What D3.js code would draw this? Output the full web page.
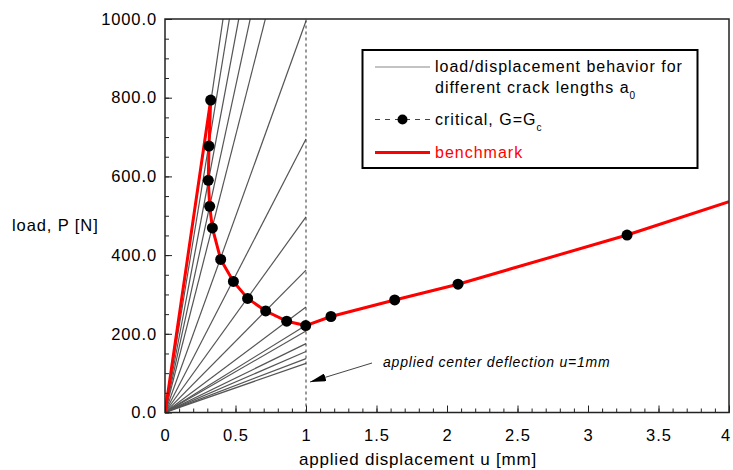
<!DOCTYPE html>
<html>
<head>
<meta charset="utf-8">
<script src="https://cdn.jsdelivr.net/npm/d3@7"></script>
<style>
  body { margin: 0; background: #fff; }
  svg text { font-family: "Liberation Sans", Arial, Helvetica, sans-serif; fill: #000; }
</style>
</head>
<body>
<div id="chart"></div>
<script>
// Chart data
const grayLoadAtU1 = [2430, 2190, 1912, 1655, 1405, 995, 695, 497, 362, 268, 222, 207, 175, 155, 137, 125];
const criticalU = [0.324, 0.312, 0.307, 0.317, 0.336, 0.395, 0.485, 0.586, 0.714, 0.863, 0.998, 1.177, 1.629, 2.078, 3.277];
const criticalP = [794, 677, 590, 524, 469, 389, 333, 290, 258, 232, 221, 244, 286, 326, 451];
const benchU = [0, 0.324, 0.312, 0.307, 0.317, 0.336, 0.395, 0.485, 0.586, 0.714, 0.863, 0.998, 1.177, 1.629, 2.078, 3.277, 4];
const benchP = [0, 794, 677, 590, 524, 469, 389, 333, 290, 258, 232, 221, 244, 286, 326, 451, 536];
const xTicks = [0, 0.5, 1, 1.5, 2, 2.5, 3, 3.5, 4];
const yTicks = [0, 200, 400, 600, 800, 1000];
const legendLabels = ["load/displacement behavior for", "different crack lengths a", "critical, G=G", "benchmark"];

const width = 733, height = 470;
const margin = { left: 165, right: 4, top: 19, bottom: 57.5 };
const plotW = width - margin.left - margin.right;
const plotH = height - margin.top - margin.bottom;

const svg = d3.select('#chart').append('svg')
    .attr('width', width)
    .attr('height', height);

const x = d3.scaleLinear().domain([0, 4]).range([margin.left, margin.left + plotW]);
const y = d3.scaleLinear().domain([0, 1000]).range([margin.top + plotH, margin.top]);

svg.append('clipPath').attr('id', 'clip')
    .append('rect')
    .attr('x', x(0)).attr('y', y(1000))
    .attr('width', x(4) - x(0)).attr('height', y(0) - y(1000));

const plot = svg.append('g').attr('clip-path', 'url(#clip)');

// gray load/displacement lines, each from origin to u=1
plot.selectAll('.gray')
    .data(grayLoadAtU1)
    .enter()
    .append('line')
    .attr('x1', x(0)).attr('y1', y(0))
    .attr('x2', x(1)).attr('y2', d => y(d))
    .attr('stroke', '#555')
    .attr('stroke-width', 1.2);

// dashed line at u=1
plot.append('line')
    .attr('x1', x(1)).attr('x2', x(1))
    .attr('y1', y(0)).attr('y2', y(1000))
    .attr('stroke', '#333')
    .attr('stroke-width', 1)
    .attr('stroke-dasharray', '3,3');

// critical dashed line
const critData = criticalU.map((u, i) => [u, criticalP[i]]);
const line = d3.line().x(d => x(d[0])).y(d => y(d[1]));
plot.append('path')
    .attr('d', line(critData))
    .attr('fill', 'none')
    .attr('stroke', '#000')
    .attr('stroke-width', 1)
    .attr('stroke-dasharray', '4,4');

// benchmark red
const benchData = benchU.map((u, i) => [u, benchP[i]]);
plot.append('path')
    .attr('d', line(benchData))
    .attr('fill', 'none')
    .attr('stroke', '#ff0000')
    .attr('stroke-width', 3)
    .attr('stroke-linejoin', 'round');

// critical points
plot.selectAll('.crit')
    .data(critData)
    .enter()
    .append('circle')
    .attr('cx', d => x(d[0]))
    .attr('cy', d => y(d[1]))
    .attr('r', 5.5)
    .attr('fill', '#000');

// axes (ticks inside)
const xAxis = d3.axisBottom(x).tickValues(d3.range(0, 4.001, 0.1)).tickSize(-4).tickFormat('');
svg.append('g').attr('transform', 'translate(0,' + y(0) + ')').call(xAxis)
    .call(g => g.select('.domain').remove())
    .selectAll('line').attr('stroke', '#222');
const xMajor = d3.axisBottom(x).tickValues(xTicks).tickSize(-7).tickPadding(13).tickFormat(d3.format('~g'));
svg.append('g').attr('transform', 'translate(0,' + y(0) + ')').call(xMajor)
    .call(g => g.select('.domain').remove())
    .call(g => g.selectAll('line').attr('stroke', '#222'))
    .call(g => g.selectAll('text').attr('font-size', 16.5).attr('letter-spacing', 1).attr('dy', '0.95em'))
    .call(g => g.selectAll('text').filter(d => d === 4).attr('dx', -4).attr('letter-spacing', 0));

const yAxis = d3.axisLeft(y).tickValues(d3.range(0, 1001, 50)).tickSize(-4).tickFormat('');
svg.append('g').attr('transform', 'translate(' + x(0) + ',0)').call(yAxis)
    .call(g => g.select('.domain').remove())
    .selectAll('line').attr('stroke', '#222');
const yMajor = d3.axisLeft(y).tickValues(yTicks).tickSize(-7).tickPadding(8).tickFormat(d3.format('.1f'));
svg.append('g').attr('transform', 'translate(' + x(0) + ',0)').call(yMajor)
    .call(g => g.select('.domain').remove())
    .call(g => g.selectAll('line').attr('stroke', '#222'))
    .call(g => g.selectAll('text').attr('font-size', 16.5).attr('letter-spacing', 0.9).attr('font-family', '"Liberation Sans", Arial, sans-serif'));

// frame
svg.append('rect')
    .attr('x', x(0)).attr('y', y(1000))
    .attr('width', x(4) - x(0)).attr('height', y(0) - y(1000))
    .attr('fill', 'none')
    .attr('stroke', '#222')
    .attr('stroke-width', 1.5);

// axis titles
svg.append('text')
    .attr('x', 418).attr('y', 465)
    .attr('text-anchor', 'middle')
    .attr('font-size', 17).attr('letter-spacing', 0.8)
    .text('applied displacement u [mm]');
svg.append('text')
    .attr('x', 12).attr('y', 231)
    .attr('font-size', 16.5).attr('letter-spacing', 0.9)
    .text('load, P [N]');

// annotation with arrow
svg.append('defs').append('marker')
    .attr('id', 'arrow')
    .attr('viewBox', '0 0 16 8')
    .attr('refX', 16).attr('refY', 4)
    .attr('markerWidth', 16).attr('markerHeight', 8)
    .attr('markerUnits', 'userSpaceOnUse')
    .attr('orient', 'auto')
    .append('path').attr('d', 'M0,0 L16,4 L0,8 Z').attr('fill', '#000');
svg.append('line')
    .attr('x1', 372).attr('y1', 363)
    .attr('x2', 310).attr('y2', 382)
    .attr('stroke', '#444').attr('stroke-width', 1)
    .attr('marker-end', 'url(#arrow)');
svg.append('text')
    .attr('x', 383).attr('y', 367)
    .attr('font-size', 14).attr('font-style', 'italic').attr('letter-spacing', 0.8)
    .text('applied center deflection u=1mm');

// legend
const lg = svg.append('g');
lg.append('rect')
    .attr('x', 362.5).attr('y', 50).attr('width', 335).attr('height', 118)
    .attr('fill', '#fff').attr('stroke', '#000').attr('stroke-width', 2);
lg.append('line').attr('x1', 375).attr('x2', 430).attr('y1', 67).attr('y2', 67)
    .attr('stroke', '#888').attr('stroke-width', 1.2);
lg.append('text').attr('x', 435).attr('y', 72).attr('font-size', 16).attr('letter-spacing', 1)
    .text(legendLabels[0]);
const t2 = lg.append('text').attr('x', 435).attr('y', 93).attr('font-size', 16).attr('letter-spacing', 1)
    .text(legendLabels[1]);
t2.append('tspan').attr('font-size', 10).attr('dy', 6).text('0');
lg.append('line').attr('x1', 375).attr('x2', 430).attr('y1', 119.5).attr('y2', 119.5)
    .attr('stroke', '#444').attr('stroke-width', 1).attr('stroke-dasharray', '5,5');
lg.append('circle').attr('cx', 402.5).attr('cy', 119.5).attr('r', 5).attr('fill', '#000');
const t3 = lg.append('text').attr('x', 435).attr('y', 125).attr('font-size', 16).attr('letter-spacing', 1)
    .text(legendLabels[2]);
t3.append('tspan').attr('font-size', 10).attr('dy', 6).text('c');
lg.append('line').attr('x1', 375).attr('x2', 430).attr('y1', 152.5).attr('y2', 152.5)
    .attr('stroke', '#ff0000').attr('stroke-width', 3);
lg.append('text').attr('x', 435).attr('y', 157.5).attr('font-size', 16).attr('letter-spacing', 1)
    .attr('fill', '#ff0000').style('fill', '#ff0000')
    .text(legendLabels[3]);
</script>
</body>
</html>
